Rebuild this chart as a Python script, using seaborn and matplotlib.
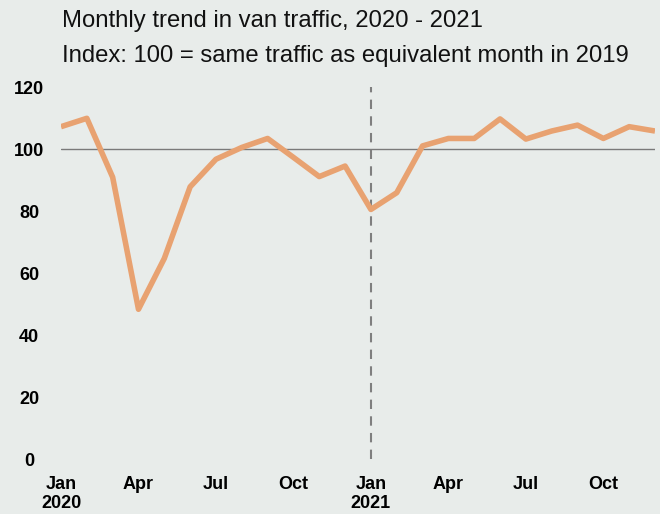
import matplotlib
matplotlib.use("Agg")
import matplotlib.pyplot as plt
from matplotlib import font_manager
import seaborn as sns
import pandas as pd

months = ["2020-01", "2020-02", "2020-03", "2020-04", "2020-05", "2020-06",
          "2020-07", "2020-08", "2020-09", "2020-10", "2020-11", "2020-12",
          "2021-01", "2021-02", "2021-03", "2021-04", "2021-05", "2021-06",
          "2021-07", "2021-08", "2021-09", "2021-10", "2021-11", "2021-12"]
index_values = [107.2, 109.9, 90.9, 48.3, 64.7, 87.8, 96.7, 100.5, 103.4, 97.3, 91.1, 94.5,
                80.5, 85.9, 101.0, 103.4, 103.4, 109.7, 103.2, 105.8, 107.7, 103.4, 107.2, 105.8]
tick_months = ["2020-01", "2020-04", "2020-07", "2020-10", "2021-01", "2021-04", "2021-07", "2021-10"]
tick_labels = ["Jan\n2020", "Apr", "Jul", "Oct", "Jan\n2021", "Apr", "Jul", "Oct"]
y_ticks = [0, 20, 40, 60, 80, 100, 120]
title_lines = ["Monthly trend in van traffic, 2020 - 2021",
               "Index: 100 = same traffic as equivalent month in 2019"]

bg = "#E8ECEA"
line_color = "#E8A271"

sns.set_theme(style="white")
plt.rcParams["font.family"] = ["Liberation Sans", "DejaVu Sans"]

installed = {f.name for f in font_manager.fontManager.ttflist}
tick_family = ["Liberation Sans Narrow", "Liberation Sans"] if "Liberation Sans Narrow" in installed else ["Liberation Sans"]
tick_size = 15 if "Liberation Sans Narrow" in installed else 13

df = pd.DataFrame({"month": months, "value": index_values})
df["pos"] = range(len(df))
pos_of = {m: i for i, m in enumerate(months)}

fig = plt.figure(figsize=(6.6, 5.14), dpi=100, facecolor=bg)
ax = fig.add_axes([61 / 660, 1 - 459 / 514, (655 - 61) / 660, (459 - 87) / 514])
ax.set_facecolor(bg)

ax.axhline(100, color="#7a7a7a", lw=1.0, zorder=1)
ax.axvline(pos_of["2021-01"], color="#7f7f7f", lw=1.5, ls=(0, (4.5, 3.5)), zorder=1)

sns.lineplot(data=df, x="pos", y="value", ax=ax, color=line_color, lw=4.0,
             zorder=3, solid_joinstyle="round", solid_capstyle="butt")

ax.set_xlim(0, len(months) - 1)
ax.set_ylim(0, 120)
ax.set_xticks([pos_of[m] for m in tick_months])
ax.set_xticklabels(tick_labels, fontweight="bold", fontsize=tick_size, linespacing=1.15,
                   family=tick_family, color="#000000")
ax.set_yticks(y_ticks)
ax.set_yticklabels([str(v) for v in y_ticks], fontweight="bold", fontsize=tick_size,
                   ha="center", family=tick_family, color="#000000")
ax.tick_params(axis="y", length=0, pad=23)
ax.tick_params(axis="x", length=0, pad=12)
ax.set_xlabel("")
ax.set_ylabel("")
for s in ax.spines.values():
    s.set_visible(False)

fig.text(62 / 660, 1 - 27 / 514, title_lines[0], fontsize=17.2, color="#111111", va="baseline")
fig.text(62 / 660, 1 - 62 / 514, title_lines[1], fontsize=17.2, color="#111111", va="baseline")

fig.savefig("out.png", dpi=100, facecolor=bg)
